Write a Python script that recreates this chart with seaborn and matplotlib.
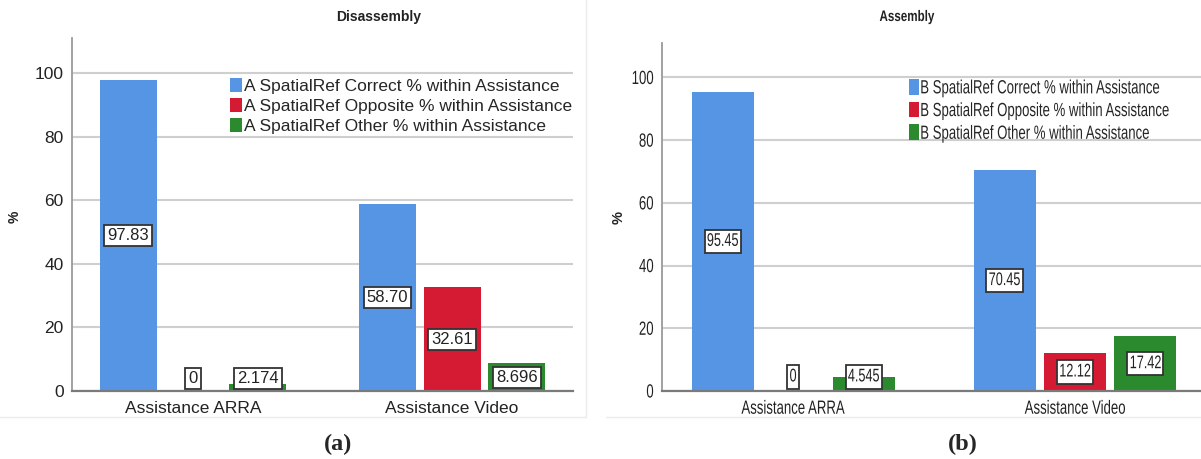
import matplotlib
matplotlib.use("Agg")
import matplotlib.pyplot as plt
import seaborn as sns
import pandas as pd
from matplotlib.patches import Rectangle
from matplotlib.patheffects import AbstractPathEffect
from matplotlib.transforms import Affine2D
from matplotlib.lines import Line2D

# ---- data ----
groups = ["Assistance ARRA", "Assistance Video"]
cats_a = ["A SpatialRef Correct % within Assistance",
          "A SpatialRef Opposite % within Assistance",
          "A SpatialRef Other % within Assistance"]
cats_b = ["B SpatialRef Correct % within Assistance",
          "B SpatialRef Opposite % within Assistance",
          "B SpatialRef Other % within Assistance"]
disassembly_arra = [97.83, 0, 2.174]
disassembly_video = [58.70, 32.61, 8.696]
assembly_arra = [95.45, 0, 4.545]
assembly_video = [70.45, 12.12, 17.42]
labels_dis_arra = ["97.83", "0", "2.174"]
labels_dis_video = ["58.70", "32.61", "8.696"]
labels_asm_arra = ["95.45", "0", "4.545"]
labels_asm_video = ["70.45", "12.12", "17.42"]
yticks = [0, 20, 40, 60, 80, 100]

colors = ["#5595e3", "#d41b33", "#2b8a2e"]

sns.set_theme(style="white")
FAMILY = ["Liberation Sans", "DejaVu Sans"]
plt.rcParams["font.family"] = FAMILY

W, H = 1201, 459
fig = plt.figure(figsize=(W / 100, H / 100), dpi=100)


class HStretch(AbstractPathEffect):
    """Squeeze drawn glyphs horizontally around an anchor x (display coords)."""

    def __init__(self, sx, anchor):
        super().__init__()
        self.sx = sx
        self.anchor = anchor

    def draw_path(self, renderer, gc, tpath, affine, rgbFace=None):
        x0 = self.anchor()
        t = affine + Affine2D().translate(-x0, 0).scale(self.sx, 1).translate(x0, 0)
        renderer.draw_path(gc, tpath, t, rgbFace)


def own_anchor(txt):
    return lambda: txt.get_transform().transform(txt.get_unitless_position())[0]


def squeeze_text(txt, sx):
    if sx == 1:
        return
    eff = HStretch(sx, own_anchor(txt))
    txt.set_path_effects([eff])
    patch = txt.get_bbox_patch()
    if patch is not None:
        patch.set_path_effects([eff])


def frame(px_left, px_right, px_top, px_bottom):
    return [px_left / W, 1 - px_bottom / H, (px_right - px_left) / W, (px_bottom - px_top) / H]


def panel(ax, cats, arra, video, lab_arra, lab_video, sx, fs, xlim, min_lab,
          leg_loc, leg_anchor, leg_spacing, leg_pivot):
    df = pd.DataFrame({
        "Assistance": [groups[0]] * 3 + [groups[1]] * 3,
        "Category": cats * 2,
        "Value": list(arra) + list(video),
    })
    sns.barplot(data=df, x="Assistance", y="Value", hue="Category", order=groups,
                hue_order=cats, palette=colors, width=0.75, gap=0.12,
                saturation=1, ax=ax, legend=False, linewidth=0)
    ax.set_xlim(*xlim)
    ax.set_ylim(0, 111)
    ax.set_yticks(yticks)
    ax.yaxis.grid(True, color="#cfcfcf", lw=1.5)
    ax.set_axisbelow(True)
    ax.set_xlabel("")
    ax.set_ylabel("")
    for s in ["top", "right"]:
        ax.spines[s].set_visible(False)
    ax.spines["left"].set_color("#9a9a9a")
    ax.spines["left"].set_linewidth(1.3)
    ax.spines["bottom"].set_color("#7a7a7a")
    ax.spines["bottom"].set_linewidth(1.6)
    ax.tick_params(axis="both", length=0, labelsize=fs * 12.5, colors="#222222")
    ax.tick_params(axis="y", pad=6)
    ax.tick_params(axis="x", pad=7)
    for tick in ax.xaxis.get_major_ticks() + ax.yaxis.get_major_ticks():
        squeeze_text(tick.label1, sx)

    # value boxes, centred at half bar height (kept above the baseline)
    labels = [lab_arra, lab_video]
    for j, cat in enumerate(cats):
        for i, bar in enumerate(ax.containers[j]):
            v = bar.get_height()
            cx = bar.get_x() + bar.get_width() / 2
            t = ax.text(cx, max(v / 2, min_lab), labels[i][j], ha="center",
                        va="center", fontsize=fs * 12, color="#222222", zorder=5,
                        bbox=dict(boxstyle="square,pad=0.18", fc="white",
                                  ec="#333333", lw=1.3))
            squeeze_text(t, sx)

    handles = [Rectangle((0, 0), 1, 1, fc=c, ec="none") for c in colors]
    leg = ax.legend(handles, cats, loc=leg_loc, bbox_to_anchor=leg_anchor,
                    frameon=False, borderpad=0, borderaxespad=0,
                    handlelength=0.7, handleheight=0.9, handletextpad=0.12,
                    labelspacing=leg_spacing, prop=dict(size=fs * 12.5))
    if sx != 1:
        pivot = lambda: fig.transFigure.transform((leg_pivot / W, 0))[0]
        eff = HStretch(sx, pivot)
        for a in list(leg.get_texts()) + list(leg.legend_handles):
            a.set_path_effects([eff])


ax1 = fig.add_axes(frame(72, 573, 38, 391))
panel(ax1, cats_a, disassembly_arra, disassembly_video, labels_dis_arra,
      labels_dis_video, 1, 1.0, (-0.467, 1.467), 3.8,
      "upper left", ((230 - 72) / 501, 0.887), 0.22, None)

SX = 0.69
ax2 = fig.add_axes(frame(662, 1201, 43, 391))
panel(ax2, cats_b, assembly_arra, assembly_video, labels_asm_arra,
      labels_asm_video, SX, 1.1, (-0.465, 1.447), 4.5,
      "upper right", ((1169 - 662) / 539, 0.897), 0.22, 1169)

# faint outlines of the two chart panels
for seg in [((0, 417), (586, 417)), ((586, 0), (586, 417)), ((606, 417), (1201, 417))]:
    (x0, y0), (x1, y1) = seg
    fig.add_artist(Line2D([x0 / W, x1 / W], [1 - y0 / H, 1 - y1 / H],
                          transform=fig.transFigure, color="#ebebeb", lw=1))

# panel titles, axis labels and captions
fig.text(379 / W, 1 - 17 / H, "Disassembly", ha="center", va="center",
         fontsize=10, fontweight="bold", color="#222222")
t_b = fig.text(907 / W, 1 - 17 / H, "Assembly", ha="center", va="center",
               fontsize=11, fontweight="bold", color="#222222")
squeeze_text(t_b, 0.76)
fig.text(15 / W, 1 - 217 / H, "%", ha="center", va="center", rotation=90,
         fontsize=10, fontweight="bold", color="#222222")
fig.text(619 / W, 1 - 217 / H, "%", ha="center", va="center", rotation=90,
         fontsize=10.5, fontweight="bold", color="#222222")
serif = ["Liberation Serif", "DejaVu Serif"]
fig.text(338 / W, 1 - 444 / H, "(a)", ha="center", va="center", fontsize=17.5,
         fontweight="bold", family=serif)
fig.text(963 / W, 1 - 444 / H, "(b)", ha="center", va="center", fontsize=17.5,
         fontweight="bold", family=serif)

fig.savefig("out.png", dpi=100)
